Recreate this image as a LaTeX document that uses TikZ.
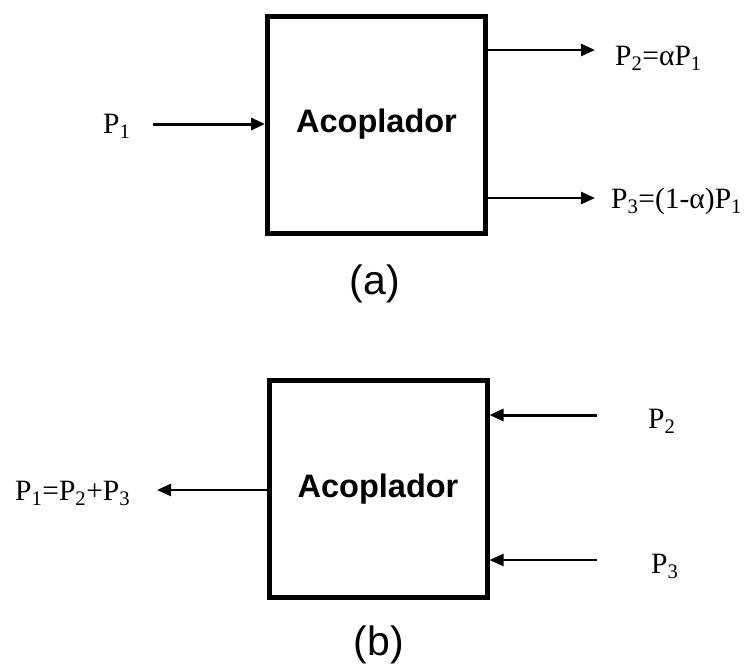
\documentclass[tikz,border=0pt]{standalone}
\usepackage{fontspec}
\setmainfont{Liberation Serif}
\setsansfont{Liberation Sans}
\usetikzlibrary{arrows.meta}
\begin{document}
\begin{tikzpicture}[x=1pt,y=-1pt,
  coupler/.style={draw,line width=5pt,minimum width=218pt,minimum height=217pt,inner sep=0pt,
    font=\sffamily\bfseries\fontsize{32.5}{34}\selectfont},
  arr/.style={line width=2.4pt,-{Triangle[length=14pt,width=12pt]}},
  lbl/.style={inner sep=0pt,font=\fontsize{29.5}{31}\selectfont},
  captext/.style={inner sep=0pt,font=\sffamily\fontsize{41}{43}\selectfont}]
\useasboundingbox (0,0) rectangle (747,670);
% (a)
\node[coupler] (boxa) at (376.5,124.5) {Acoplador};
\node[lbl,anchor=base west] (p1) at (103,133) {P\textsubscript{1}};
\coordinate (i1) at (153,124);
\draw[arr,line width=3pt] (i1) -- (i1 -| boxa.west);
\coordinate (o2) at (595,50);
\coordinate (o3) at (595,198);
\draw[arr] (o2 -| boxa.east) -- (o2);
\draw[arr] (o3 -| boxa.east) -- (o3);
\node[lbl,anchor=base west] (p2a) at (615,65) {P\textsubscript{2}=αP\textsubscript{1}};
\node[lbl,anchor=base west] (p3a) at (611,208) {P\textsubscript{3}=(1-α)P\textsubscript{1}};
\node[captext] (capa) at (375,284) {(a)};
% (b)
\node[coupler] (boxb) at (378,489) {Acoplador};
\coordinate (ob) at (157,490);
\draw[arr] (ob -| boxb.west) -- (ob);
\node[lbl,anchor=base west] (p1b) at (15,500) {P\textsubscript{1}=P\textsubscript{2}+P\textsubscript{3}};
\coordinate (ib2) at (597,415);
\coordinate (ib3) at (597,560);
\draw[arr,line width=3pt] (ib2) -- (ib2 -| boxb.east);
\draw[arr] (ib3) -- (ib3 -| boxb.east);
\node[lbl,anchor=base west] (p2b) at (648,428) {P\textsubscript{2}};
\node[lbl,anchor=base west] (p3b) at (651,573) {P\textsubscript{3}};
\node[captext] (capb) at (379,645) {(b)};
\end{tikzpicture}
\end{document}
